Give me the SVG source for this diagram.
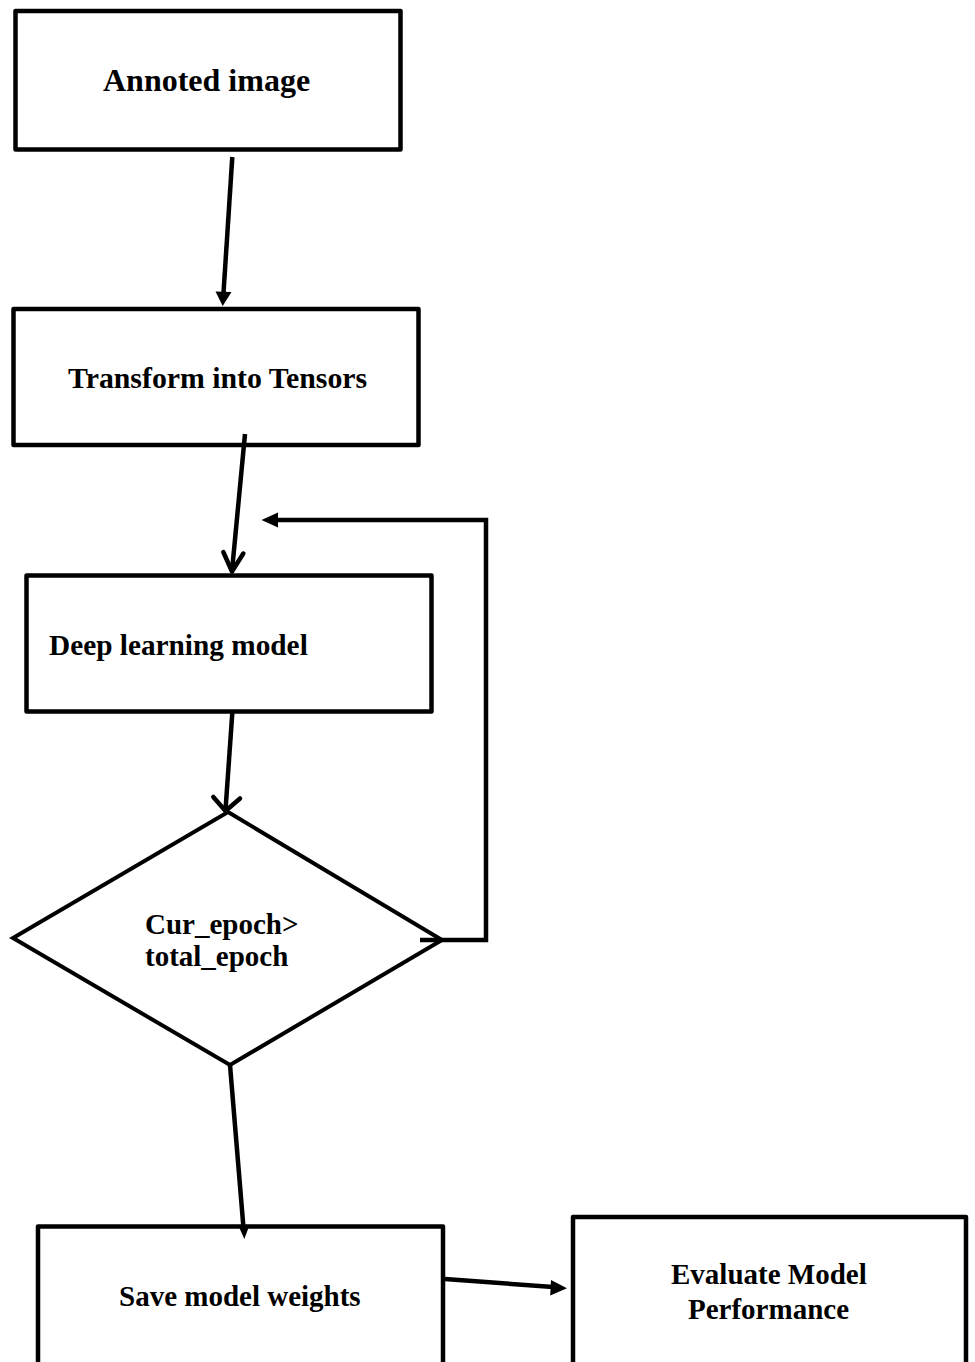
<svg xmlns="http://www.w3.org/2000/svg" width="975" height="1362" viewBox="0 0 975 1362">
  <style>
    .box { fill: #ffffff; stroke: #000000; stroke-width: 4.5; stroke-linejoin: round; }
    .dia { fill: #ffffff; stroke: #000000; stroke-width: 4; stroke-linejoin: miter; }
    .lbl { font-family: "Liberation Serif", "Times New Roman", serif; font-weight: bold; font-size: 29px; fill: #000000; }
    .wire { fill: none; stroke: #000000; stroke-width: 4.5; stroke-linecap: butt; stroke-linejoin: miter; }
    .chev { fill: none; stroke: #000000; stroke-width: 4.5; stroke-linecap: round; stroke-linejoin: round; }
    .head { fill: #000000; stroke: none; }
  </style>
  <rect width="975" height="1362" fill="#ffffff"/>

  <g id="node-annotated-image">
    <rect class="box" x="15.5" y="11" width="385" height="138.5"/>
    <text class="lbl" x="103" y="91" style="font-size:32px">Annoted image</text>
  </g>

  <g id="node-transform">
    <rect class="box" x="13.5" y="309" width="405" height="136"/>
    <text class="lbl" x="68" y="388" style="font-size:29.8px">Transform into Tensors</text>
  </g>

  <g id="node-model">
    <rect class="box" x="26.5" y="575.5" width="405" height="136"/>
    <text class="lbl" x="49" y="655" style="font-size:29.3px">Deep learning model</text>
  </g>

  <g id="node-epoch-check">
    <polygon class="dia" points="228,812 442,940 230,1065 13,938"/>
    <text class="lbl" x="145" y="934">Cur_epoch&gt;</text>
    <text class="lbl" x="145" y="966">total_epoch</text>
  </g>

  <g id="node-save-weights">
    <rect class="box" x="38" y="1226.5" width="405" height="150"/>
    <text class="lbl" x="119" y="1306">Save model weights</text>
  </g>

  <g id="node-evaluate">
    <rect class="box" x="573" y="1217" width="393" height="160"/>
    <text class="lbl" x="671" y="1284">Evaluate Model</text>
    <text class="lbl" x="688" y="1319">Performance</text>
  </g>

  <g id="connectors">
    <!-- image -> tensors -->
    <line class="wire" x1="232.3" y1="157" x2="223.5" y2="293"/>
    <polygon class="head" points="222.7,306 215.5,291.5 231.5,292"/>

    <!-- tensors -> model (open arrowhead) -->
    <line class="wire" x1="245" y1="434" x2="232" y2="571"/>
    <polyline class="chev" points="223.3,552 232,571.5 243.3,553.5"/>

    <!-- loop back from decision -->
    <polyline class="wire" points="420,940 486,940 486,520 276,520"/>
    <polygon class="head" points="261.5,520 278,512.5 278,527.5"/>

    <!-- model -> decision (open arrowhead) -->
    <line class="wire" x1="232.3" y1="713" x2="225.5" y2="810"/>
    <polyline class="chev" points="213.3,797 225.5,811 240,798.5"/>

    <!-- decision -> save -->
    <line class="wire" x1="230" y1="1065" x2="243.5" y2="1228"/>
    <polygon class="head" points="244.3,1239 238.8,1226.5 249.2,1226"/>

    <!-- save -> evaluate -->
    <line class="wire" x1="445" y1="1279" x2="553" y2="1287"/>
    <polygon class="head" points="567,1288.3 551,1280 550.2,1295.5"/>
  </g>
</svg>
